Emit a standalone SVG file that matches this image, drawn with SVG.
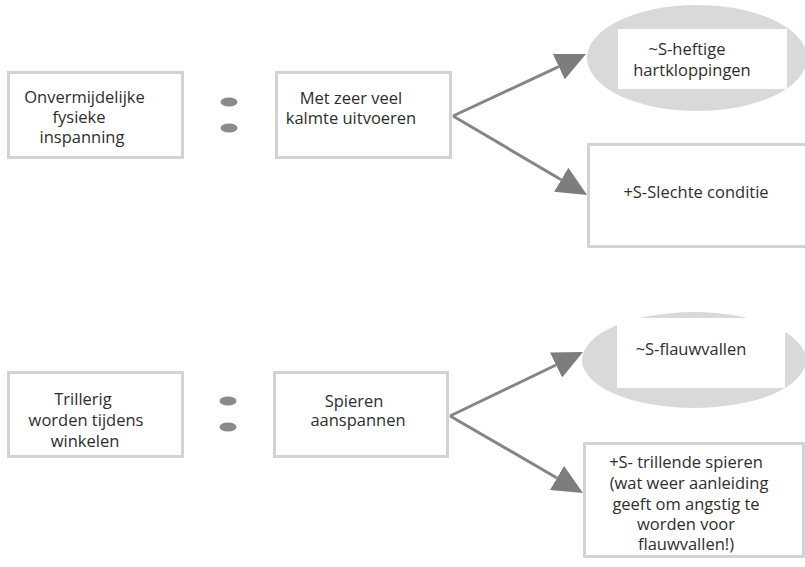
<svg xmlns="http://www.w3.org/2000/svg" width="805" height="567" viewBox="0 0 805 567">
<defs>
<style>
.box{fill:#fff;stroke:#d3d3d3;stroke-width:3}
.ell{fill:#d9d9d9}
.inner{fill:#fff}
.dot{fill:#8a8a8a}
.t{font-family:"Open Sans","Liberation Sans",sans-serif;font-size:16.5px;fill:#2e2e2e;text-anchor:middle}
.con{stroke:#858585;stroke-width:3;fill:none}
</style>
<marker id="ah" viewBox="0 0 30 28" refX="0" refY="14" markerWidth="30" markerHeight="28" markerUnits="userSpaceOnUse" orient="auto">
<path d="M0,0 L30,14 L0,28 z" fill="#7d7d7d"/>
</marker>
</defs>
<rect width="805" height="567" fill="#fff"/>

<g id="n1">
<rect class="box" x="8.5" y="72.5" width="174" height="85"/>
<text class="t" x="84.5" y="103">Onvermijdelijke</text>
<text class="t" x="79" y="123">fysieke</text>
<text class="t" x="82" y="143">inspanning</text>
</g>
<g id="sep1">
<ellipse class="dot" cx="229" cy="102" rx="8.5" ry="4.5"/>
<ellipse class="dot" cx="229" cy="128" rx="8.5" ry="4.5"/>
</g>
<g id="n2">
<rect class="box" x="276.5" y="72.5" width="174" height="85"/>
<text class="t" x="351" y="104">Met zeer veel</text>
<text class="t" x="351" y="124">kalmte uitvoeren</text>
</g>
<g id="n3">
<ellipse class="ell" cx="697" cy="58" rx="110" ry="53"/>
<rect class="inner" x="618" y="29" width="169" height="60"/>
<text class="t" x="687" y="55">~S-heftige</text>
<text class="t" x="692" y="76">hartkloppingen</text>
</g>
<g id="n4">
<rect class="box" x="588.5" y="144.5" width="220" height="102"/>
<text class="t" x="696" y="198">+S-Slechte conditie</text>
</g>

<g id="n5">
<rect class="box" x="8.5" y="372.5" width="174" height="84"/>
<text class="t" x="83" y="405">Trillerig</text>
<text class="t" x="86" y="426">worden tijdens</text>
<text class="t" x="85" y="447">winkelen</text>
</g>
<g id="sep2">
<ellipse class="dot" cx="228" cy="401" rx="8.5" ry="4.5"/>
<ellipse class="dot" cx="228" cy="427" rx="8.5" ry="4.5"/>
</g>
<g id="n6">
<rect class="box" x="274.5" y="372.5" width="173" height="84"/>
<text class="t" x="354" y="407">Spieren</text>
<text class="t" x="358" y="426">aanspannen</text>
</g>
<g id="n7">
<ellipse class="ell" cx="694" cy="360" rx="112" ry="48"/>
<rect class="inner" x="617" y="318" width="168" height="70"/>
<text class="t" x="691" y="355">~S-flauwvallen</text>
</g>
<g id="n8">
<rect class="box" x="584.5" y="443.5" width="219" height="113"/>
<text class="t" x="686" y="468">+S- trillende spieren</text>
<text class="t" x="689" y="489">(wat weer aanleiding</text>
<text class="t" x="686" y="510">geeft om angstig te</text>
<text class="t" x="686" y="530">worden voor</text>
<text class="t" x="686" y="550">flauwvallen!)</text>
</g>

<g id="connectors">
<path class="con" d="M453,116 L558.8,66.7" marker-end="url(#ah)"/>
<path class="con" d="M453,116 L561.2,179.8" marker-end="url(#ah)"/>
<path class="con" d="M450,416 L556,365" marker-end="url(#ah)"/>
<path class="con" d="M450,416 L557,478" marker-end="url(#ah)"/>
</g>
</svg>
